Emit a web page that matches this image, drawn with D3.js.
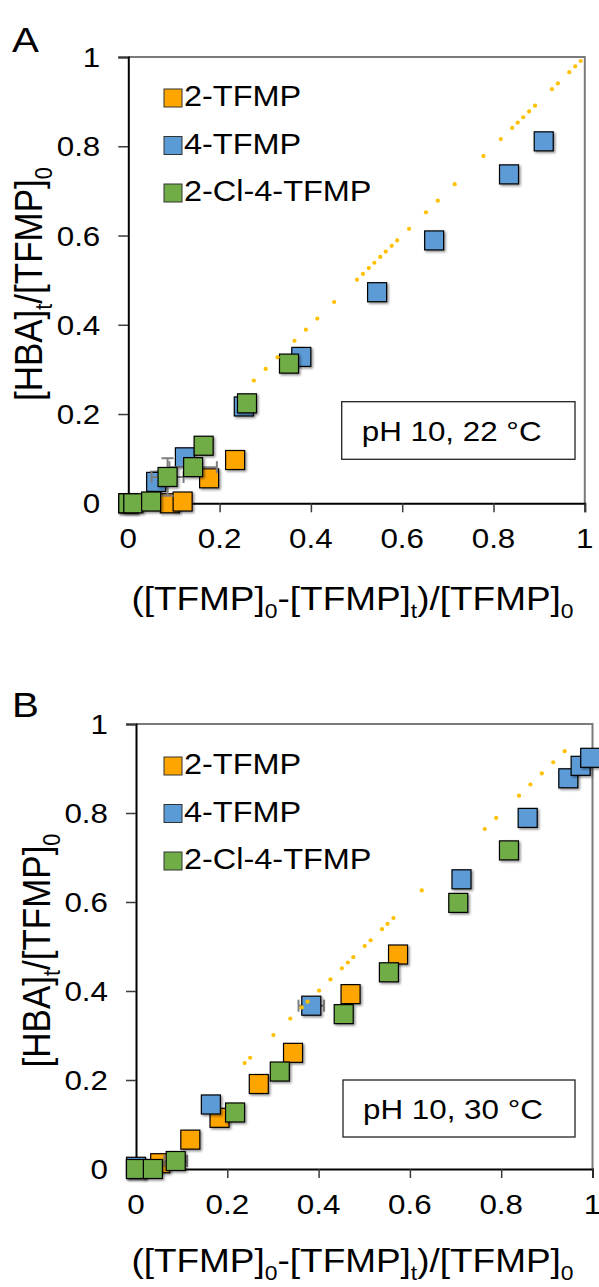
<!DOCTYPE html>
<html>
<head>
<meta charset="utf-8">
<script src="https://cdn.jsdelivr.net/npm/d3@7"></script>
<style>
  body { margin: 0; background: #fff; }
  text { font-family: Arial, "Liberation Sans", sans-serif; fill: #000; }
</style>
</head>
<body>
<svg id="chart" width="599" height="1287"></svg>
<script>
// ---- data ----
const seriesNames  = ["2-TFMP", "4-TFMP", "2-Cl-4-TFMP"];
const seriesColors = ["#FFA500", "#5B9BD5", "#70AD47"];
const tickValues   = [0, 0.2, 0.4, 0.6, 0.8, 1];
const tickLabels   = ["0", "0.2", "0.4", "0.6", "0.8", "1"];

// Panel A (pH 10, 22 °C): [conversion, HBA yield, xErr, yErr]
const tfmp2A = [[0.091, 0], [0.119, 0.004], [0.177, 0.056], [0.234, 0.097]];
const tfmp4A = [[0, 0], [0.061, 0.048, 0, 0.023], [0.124, 0.103], [0.253, 0.217],
                [0.379, 0.328], [0.545, 0.473], [0.670, 0.589], [0.834, 0.737], [0.910, 0.811]];
const clA    = [[0, 0], [0.011, 0], [0.050, 0.004], [0.086, 0.059, 0.035, 0.042],
                [0.142, 0.081, 0.052, 0], [0.165, 0.129], [0.260, 0.224], [0.352, 0.313]];
// 1:1 reference line (dotted), conversions where dots are drawn
const parityA = [0.275, 0.301, 0.327, 0.364, 0.389, 0.414, 0.451, 0.501, 0.514, 0.527,
                 0.539, 0.552, 0.564, 0.577, 0.589, 0.615, 0.652, 0.678, 0.715, 0.778,
                 0.816, 0.841, 0.853, 0.865, 0.878, 0.891, 0.928, 0.941, 0.966, 0.979, 0.991];

// Panel B (pH 10, 30 °C)
const tfmp2B = [[0, 0], [0.053, 0.013], [0.119, 0.066], [0.183, 0.115], [0.269, 0.191],
                [0.344, 0.261], [0.470, 0.393], [0.574, 0.482]];
const tfmp4B = [[0, 0.005], [0.164, 0.145], [0.384, 0.367, 0.028, 0], [0.713, 0.651],
                [0.858, 0.789], [0.947, 0.878], [0.974, 0.906], [0.995, 0.924]];
const clB    = [[0, 0], [0.037, 0], [0.087, 0.018, 0.025, 0], [0.217, 0.127], [0.315, 0.219],
                [0.455, 0.348], [0.554, 0.442], [0.706, 0.598], [0.817, 0.716]];
const parityB = [0.238, 0.250, 0.301, 0.338, 0.363, 0.376, 0.401, 0.426, 0.451, 0.464,
                 0.476, 0.501, 0.514, 0.539, 0.551, 0.564, 0.626, 0.764, 0.789, 0.839,
                 0.864, 0.889, 0.914, 0.939];

// ---- drawing ----
const SX = 1.12;          // horizontal text stretch
const svg = d3.select("#chart");

const defs = svg.append("defs");
const f = defs.append("filter").attr("id", "shadow")
  .attr("x", "-20%").attr("y", "-20%").attr("width", "150%").attr("height", "150%");
f.append("feDropShadow").attr("dx", 1.5).attr("dy", 1.5).attr("stdDeviation", 0.8)
  .attr("flood-color", "#000").attr("flood-opacity", 0.45);

function label(g, x, y, str, size, anchor) {
  return g.append("text")
    .attr("transform", `translate(${x},${y}) scale(${SX},1)`)
    .attr("font-size", size)
    .attr("text-anchor", anchor || "start")
    .text(str);
}

// text with subscript pieces: parts = [[text, isSub], ...]
function richText(t, parts, size) {
  const subSize = size * 0.62, shift = size * 0.25;
  let down = false;
  parts.forEach(([s, sub]) => {
    const ts = t.append("tspan").text(s);
    if (sub && !down) { ts.attr("dy", shift).attr("font-size", subSize); down = true; }
    else if (sub) { ts.attr("font-size", subSize); }
    else if (down) { ts.attr("dy", -shift); down = false; }
  });
}

function panel(cfg) {
  const g = svg.append("g");
  const x = d3.scaleLinear().domain([0, 1]).range([cfg.left, cfg.right]);
  const y = d3.scaleLinear().domain([0, 1]).range([cfg.bottom, cfg.top]);

  // frame (top & right)
  g.append("path")
    .attr("d", `M${x(0)},${y(1)}H${x(1)}V${y(0)}`)
    .attr("fill", "none").attr("stroke", "#7a7a7a").attr("stroke-width", 2);

  // axes
  const yAxis = d3.axisLeft(y).tickValues(tickValues).tickSize(10).tickFormat("");
  const xAxis = d3.axisBottom(x).tickValues(tickValues).tickSize(9).tickFormat("");
  const ya = g.append("g").attr("transform", `translate(${x(0)},0)`).call(yAxis);
  const xa = g.append("g").attr("transform", `translate(0,${y(0)})`).call(xAxis);
  [ya, xa].forEach(a => {
    a.select(".domain").attr("stroke", "#000").attr("stroke-width", 2);
    a.selectAll(".tick line").attr("stroke", "#3a3a3a").attr("stroke-width", 1.5);
  });

  // tick labels
  tickValues.forEach((v, i) => {
    label(g, x(0) - 28, y(v) + 10, tickLabels[i], 28, "end");
    label(g, x(v), y(0) + 45, tickLabels[i], 28, "middle");
  });

  // axis titles
  const xt = g.append("text")
    .attr("transform", `translate(352.5,${cfg.xTitleY}) scale(${SX},1)`)
    .attr("font-size", 33).attr("text-anchor", "middle");
  richText(xt, [["([TFMP]"], ["0", 1], ["-[TFMP]"], ["t", 1], [")/[TFMP]"], ["0", 1]], 33);

  const yt = g.append("text")
    .attr("transform", `translate(${cfg.yTitleX},${(y(0) + y(1)) / 2 + 4}) scale(${SX},1) rotate(-90)`)
    .attr("font-size", 35).attr("text-anchor", "middle");
  richText(yt, [["[HBA]"], ["t", 1], ["/[TFMP]"], ["0", 1]], 35);

  // panel letter
  label(g, 12, cfg.letterY, cfg.letter, 36);

  // series: error bars then markers
  const S = 19;
  cfg.series.forEach((data, si) => {
    const eg = g.append("g").attr("stroke", "#7f7f7f").attr("stroke-width", 2);
    data.forEach(d => {
      const [vx, vy, ex, ey] = d;
      if (ex) {
        eg.append("line").attr("x1", x(vx - ex)).attr("x2", x(vx + ex)).attr("y1", y(vy)).attr("y2", y(vy));
        [vx - ex, vx + ex].forEach(e => eg.append("line")
          .attr("x1", x(e)).attr("x2", x(e)).attr("y1", y(vy) - 6).attr("y2", y(vy) + 6));
      }
      if (ey) {
        eg.append("line").attr("x1", x(vx)).attr("x2", x(vx)).attr("y1", y(vy - ey)).attr("y2", y(vy + ey));
        [vy - ey, vy + ey].forEach(e => eg.append("line")
          .attr("x1", x(vx) - 6).attr("x2", x(vx) + 6).attr("y1", y(e)).attr("y2", y(e)));
      }
    });
    g.append("g").selectAll("rect").data(data).join("rect")
      .attr("x", d => x(d[0]) - S / 2).attr("y", d => y(d[1]) - S / 2)
      .attr("width", S).attr("height", S)
      .attr("fill", seriesColors[si]).attr("stroke", "#000").attr("stroke-width", 1.2)
      .attr("filter", "url(#shadow)");
  });

  // 1:1 dotted line
  g.append("g").selectAll("circle").data(cfg.parity).join("circle")
    .attr("cx", d => x(d)).attr("cy", d => y(d)).attr("r", 2.1).attr("fill", "#FFC000");

  // legend
  seriesNames.forEach((name, i) => {
    const by = cfg.legendY + i * 47.5;
    g.append("rect").attr("x", 164).attr("y", by - 17).attr("width", 18).attr("height", 18)
      .attr("fill", seriesColors[i]).attr("stroke", "#333").attr("stroke-width", 1);
    label(g, 184, by, name, 29);
  });

  // condition box
  const b = cfg.box;
  g.append("rect").attr("x", b[0]).attr("y", b[1]).attr("width", b[2]).attr("height", b[3])
    .attr("fill", "#fff").attr("stroke", "#222").attr("stroke-width", 1.3);
  label(g, b[0] + 20, b[1] + 39, cfg.boxText, 28);
}

panel({
  left: 128.3, right: 584.8, top: 57, bottom: 503.3,
  series: [tfmp2A, tfmp4A, clA], parity: parityA,
  letter: "A", letterY: 52, xTitleY: 610, yTitleX: 42,
  legendY: 106, box: [341.7, 401.7, 233.3, 57.6], boxText: "pH 10, 22 °C"
});

panel({
  left: 136, right: 592.5, top: 724, bottom: 1169,
  series: [tfmp2B, tfmp4B, clB], parity: parityB,
  letter: "B", letterY: 717, xTitleY: 1272, yTitleX: 50,
  legendY: 774, box: [343, 1080, 232, 57], boxText: "pH 10, 30 °C"
});
</script>
</body>
</html>
